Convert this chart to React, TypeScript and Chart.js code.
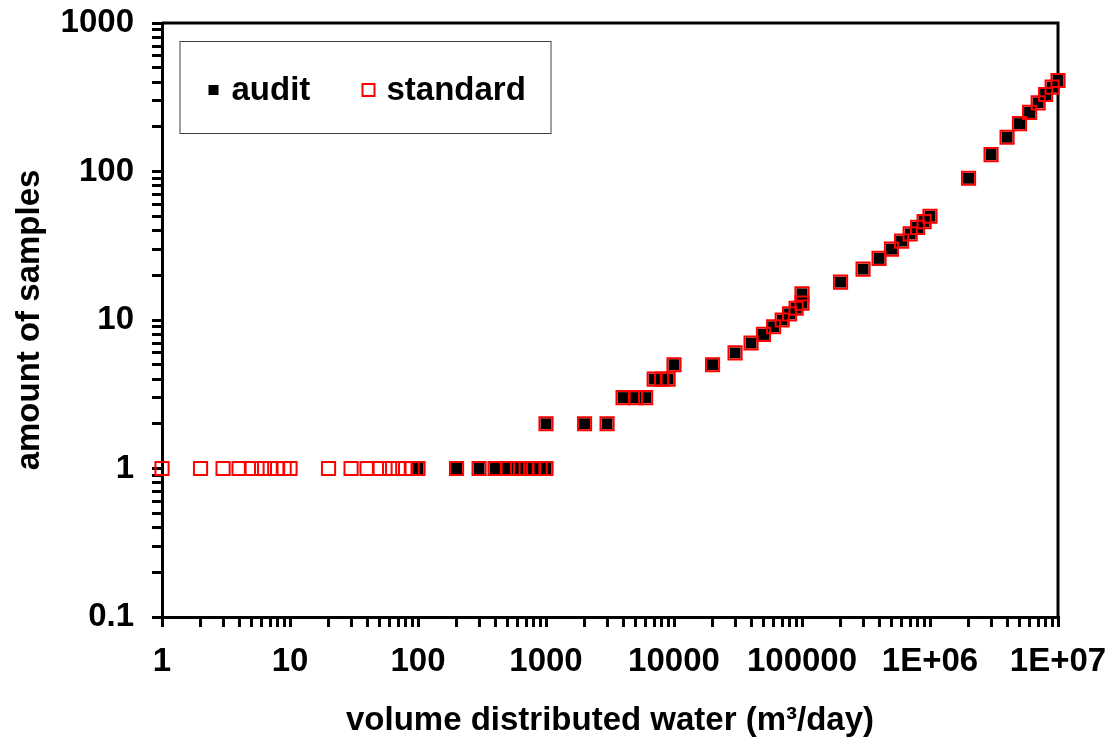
import React, { useEffect, useRef } from "react";
import { Chart, registerables } from "chart.js";

Chart.register(...registerables);

// ---- data ----
const standardX = [
  1, 2, 3, 4, 5, 6, 7, 8, 9,
  10, 20, 30, 40, 50, 60, 70, 80, 90,
  100, 200, 300, 400, 500, 600, 700, 800, 900,
  1000, 1000, 2000, 3000, 4000, 5000, 6000, 7000, 8000, 9000,
  10000, 20000, 30000, 40000, 50000, 60000, 70000, 80000, 90000,
  100000, 100000, 200000, 300000, 400000, 500000, 600000, 700000, 800000, 900000,
  1000000, 2000000, 3000000, 4000000, 5000000, 6000000, 7000000, 8000000, 9000000,
  10000000,
];
const standardY = [
  1, 1, 1, 1, 1, 1, 1, 1, 1,
  1, 1, 1, 1, 1, 1, 1, 1, 1,
  1, 1, 1, 1, 1, 1, 1, 1, 1,
  1, 2, 2, 2, 3, 3, 3, 4, 4, 4,
  5, 5, 6, 7, 8, 9, 10, 11, 12,
  13, 15, 18, 22, 26, 30, 34, 38, 42, 46,
  50, 90, 130, 170, 210, 250, 290, 330, 370,
  410,
];
const auditX = [
  100, 200, 300, 400, 500, 600, 700, 800, 900,
  1000, 1000, 2000, 3000, 4000, 5000, 6000, 7000, 8000, 9000,
  10000, 20000, 30000, 40000, 50000, 60000, 70000, 80000, 90000,
  100000, 100000, 200000, 300000, 400000, 500000, 600000, 700000, 800000, 900000,
  1000000, 2000000, 3000000, 4000000, 5000000, 6000000, 7000000, 8000000, 9000000,
  10000000,
];
const auditY = [
  1, 1, 1, 1, 1, 1, 1, 1, 1,
  1, 2, 2, 2, 3, 3, 3, 4, 4, 4,
  5, 5, 6, 7, 8, 9, 10, 11, 12,
  13, 15, 18, 22, 26, 30, 34, 38, 42, 46,
  50, 90, 130, 170, 210, 250, 290, 330, 370,
  410,
];

const xDecades = [1, 10, 100, 1000, 10000, 100000, 1000000, 10000000];
const xTickLabels = ["1", "10", "100", "1000", "10000", "100000", "1E+06", "1E+07"];
const yDecades = [0.1, 1, 10, 100, 1000];
const yTickLabels = ["0.1", "1", "10", "100", "1000"];
const minorSteps = [1, 2, 3, 4, 5, 6, 7, 8, 9];

const seriesNames = ["audit", "standard"];
const xTitle = "volume distributed water (m³/day)";
const yTitle = "amount of samples";

const FONT = "'Liberation Sans', Arial, sans-serif";

function buildTicks(decades: number[]) {
  const out: { value: number; major: boolean }[] = [];
  decades.forEach((d, i) => {
    if (i === decades.length - 1) {
      out.push({ value: d, major: true });
      return;
    }
    minorSteps.forEach((m) => {
      const v = Number((m * d).toPrecision(12));
      out.push({ value: v, major: m === 1 });
    });
  });
  return out;
}

function labelFor(decades: number[], labels: string[], v: number) {
  for (let i = 0; i < decades.length; i++) {
    if (Math.abs(v - decades[i]) / decades[i] < 1e-9) return labels[i];
  }
  return "";
}

const framePlugin = {
  id: "frameAndLegend",
  beforeDatasetsDraw(chart: any) {
    const { ctx, chartArea } = chart;
    ctx.save();
    ctx.strokeStyle = "#000";
    ctx.lineWidth = 3;
    ctx.beginPath();
    ctx.moveTo(chartArea.left, chartArea.top);
    ctx.lineTo(chartArea.right, chartArea.top);
    ctx.lineTo(chartArea.right, chartArea.bottom);
    ctx.stroke();
    ctx.restore();
  },
  afterDraw(chart: any) {
    const { ctx, chartArea } = chart;
    ctx.save();
    // legend box
    const lx = chartArea.left + 17.5;
    const ly = chartArea.top + 18;
    const lw = 371;
    const lh = 92;
    ctx.lineWidth = 1;
    ctx.strokeStyle = "#404040";
    ctx.strokeRect(lx + 0.5, ly + 0.5, lw, lh);

    // audit marker
    ctx.fillStyle = "#000";
    ctx.fillRect(lx + 29, ly + 44, 10, 10);
    ctx.font = `bold 33px ${FONT}`;
    ctx.textBaseline = "alphabetic";
    ctx.textAlign = "left";
    ctx.fillText(seriesNames[0], lx + 52, ly + 59);

    // standard marker
    ctx.strokeStyle = "#ff0000";
    ctx.lineWidth = 2;
    ctx.strokeRect(lx + 183, ly + 43, 12, 12);
    ctx.fillStyle = "#000";
    ctx.fillText(seriesNames[1], lx + 207, ly + 59);
    ctx.restore();
  },
};

export default function App() {
  const ref = useRef<HTMLCanvasElement | null>(null);

  useEffect(() => {
    if (!ref.current) return;
    const tickFont = { family: FONT, size: 33, weight: "bold" as const };
    const chart = new Chart(ref.current, {
      type: "scatter",
      data: {
        datasets: [
          {
            label: seriesNames[1],
            data: standardX.map((x, i) => ({ x, y: standardY[i] })),
            pointStyle: "rect",
            pointRadius: 9.3,
            pointHoverRadius: 9.3,
            pointBackgroundColor: "rgba(0,0,0,0)",
            pointBorderColor: "#ff0000",
            pointBorderWidth: 2,
            showLine: false,
            clip: false,
          },
          {
            label: seriesNames[0],
            data: auditX.map((x, i) => ({ x, y: auditY[i] })),
            pointStyle: "rect",
            pointRadius: 7.8,
            pointHoverRadius: 7.8,
            pointBackgroundColor: "#000",
            pointBorderColor: "#000",
            pointBorderWidth: 0,
            showLine: false,
            clip: false,
          },
        ],
      },
      options: {
        animation: false,
        responsive: false,
        layout: { padding: { top: 15, right: 54, left: 0, bottom: 0 } },
        plugins: {
          legend: { display: false },
          tooltip: { enabled: false },
        },
        scales: {
          x: {
            type: "logarithmic",
            position: "bottom",
            min: 1,
            max: 10000000,
            afterBuildTicks: (scale: any) => {
              scale.ticks = buildTicks(xDecades);
            },
            afterFit: (scale: any) => {
              scale.height = 128;
              scale.paddingLeft = 0;
              scale.paddingRight = 0;
            },
            ticks: {
              autoSkip: false,
              maxRotation: 0,
              minRotation: 0,
              color: "#000",
              font: tickFont,
              padding: 15,
              callback: (v: any) => labelFor(xDecades, xTickLabels, Number(v)),
            },
            grid: {
              drawOnChartArea: false,
              drawTicks: true,
              tickLength: 10,
              lineWidth: 3,
              color: "#000",
            },
            border: { display: true, width: 3, color: "#000" },
            title: {
              display: true,
              text: xTitle,
              color: "#000",
              font: tickFont,
              padding: { top: 0, bottom: 4 },
            },
          },
          y: {
            type: "logarithmic",
            position: "left",
            min: 0.1,
            max: 1000,
            afterBuildTicks: (scale: any) => {
              scale.ticks = buildTicks(yDecades);
            },
            afterFit: (scale: any) => {
              scale.width = 154;
              scale.paddingTop = 0;
              scale.paddingBottom = 0;
            },
            ticks: {
              autoSkip: false,
              color: "#000",
              font: tickFont,
              padding: 18,
              callback: (v: any) => labelFor(yDecades, yTickLabels, Number(v)),
            },
            grid: {
              drawOnChartArea: false,
              drawTicks: true,
              tickLength: 10,
              lineWidth: 3,
              color: "#000",
            },
            border: { display: true, width: 3, color: "#000" },
            title: {
              display: true,
              text: yTitle,
              color: "#000",
              font: tickFont,
              padding: { top: 2, bottom: 0 },
            },
          },
        },
      },
      plugins: [framePlugin],
    });
    return () => chart.destroy();
  }, []);

  return (
    <div style={{ width: 1104, height: 737 }}>
      <canvas ref={ref} width={1104} height={737} style={{ display: "block" }} />
    </div>
  );
}
